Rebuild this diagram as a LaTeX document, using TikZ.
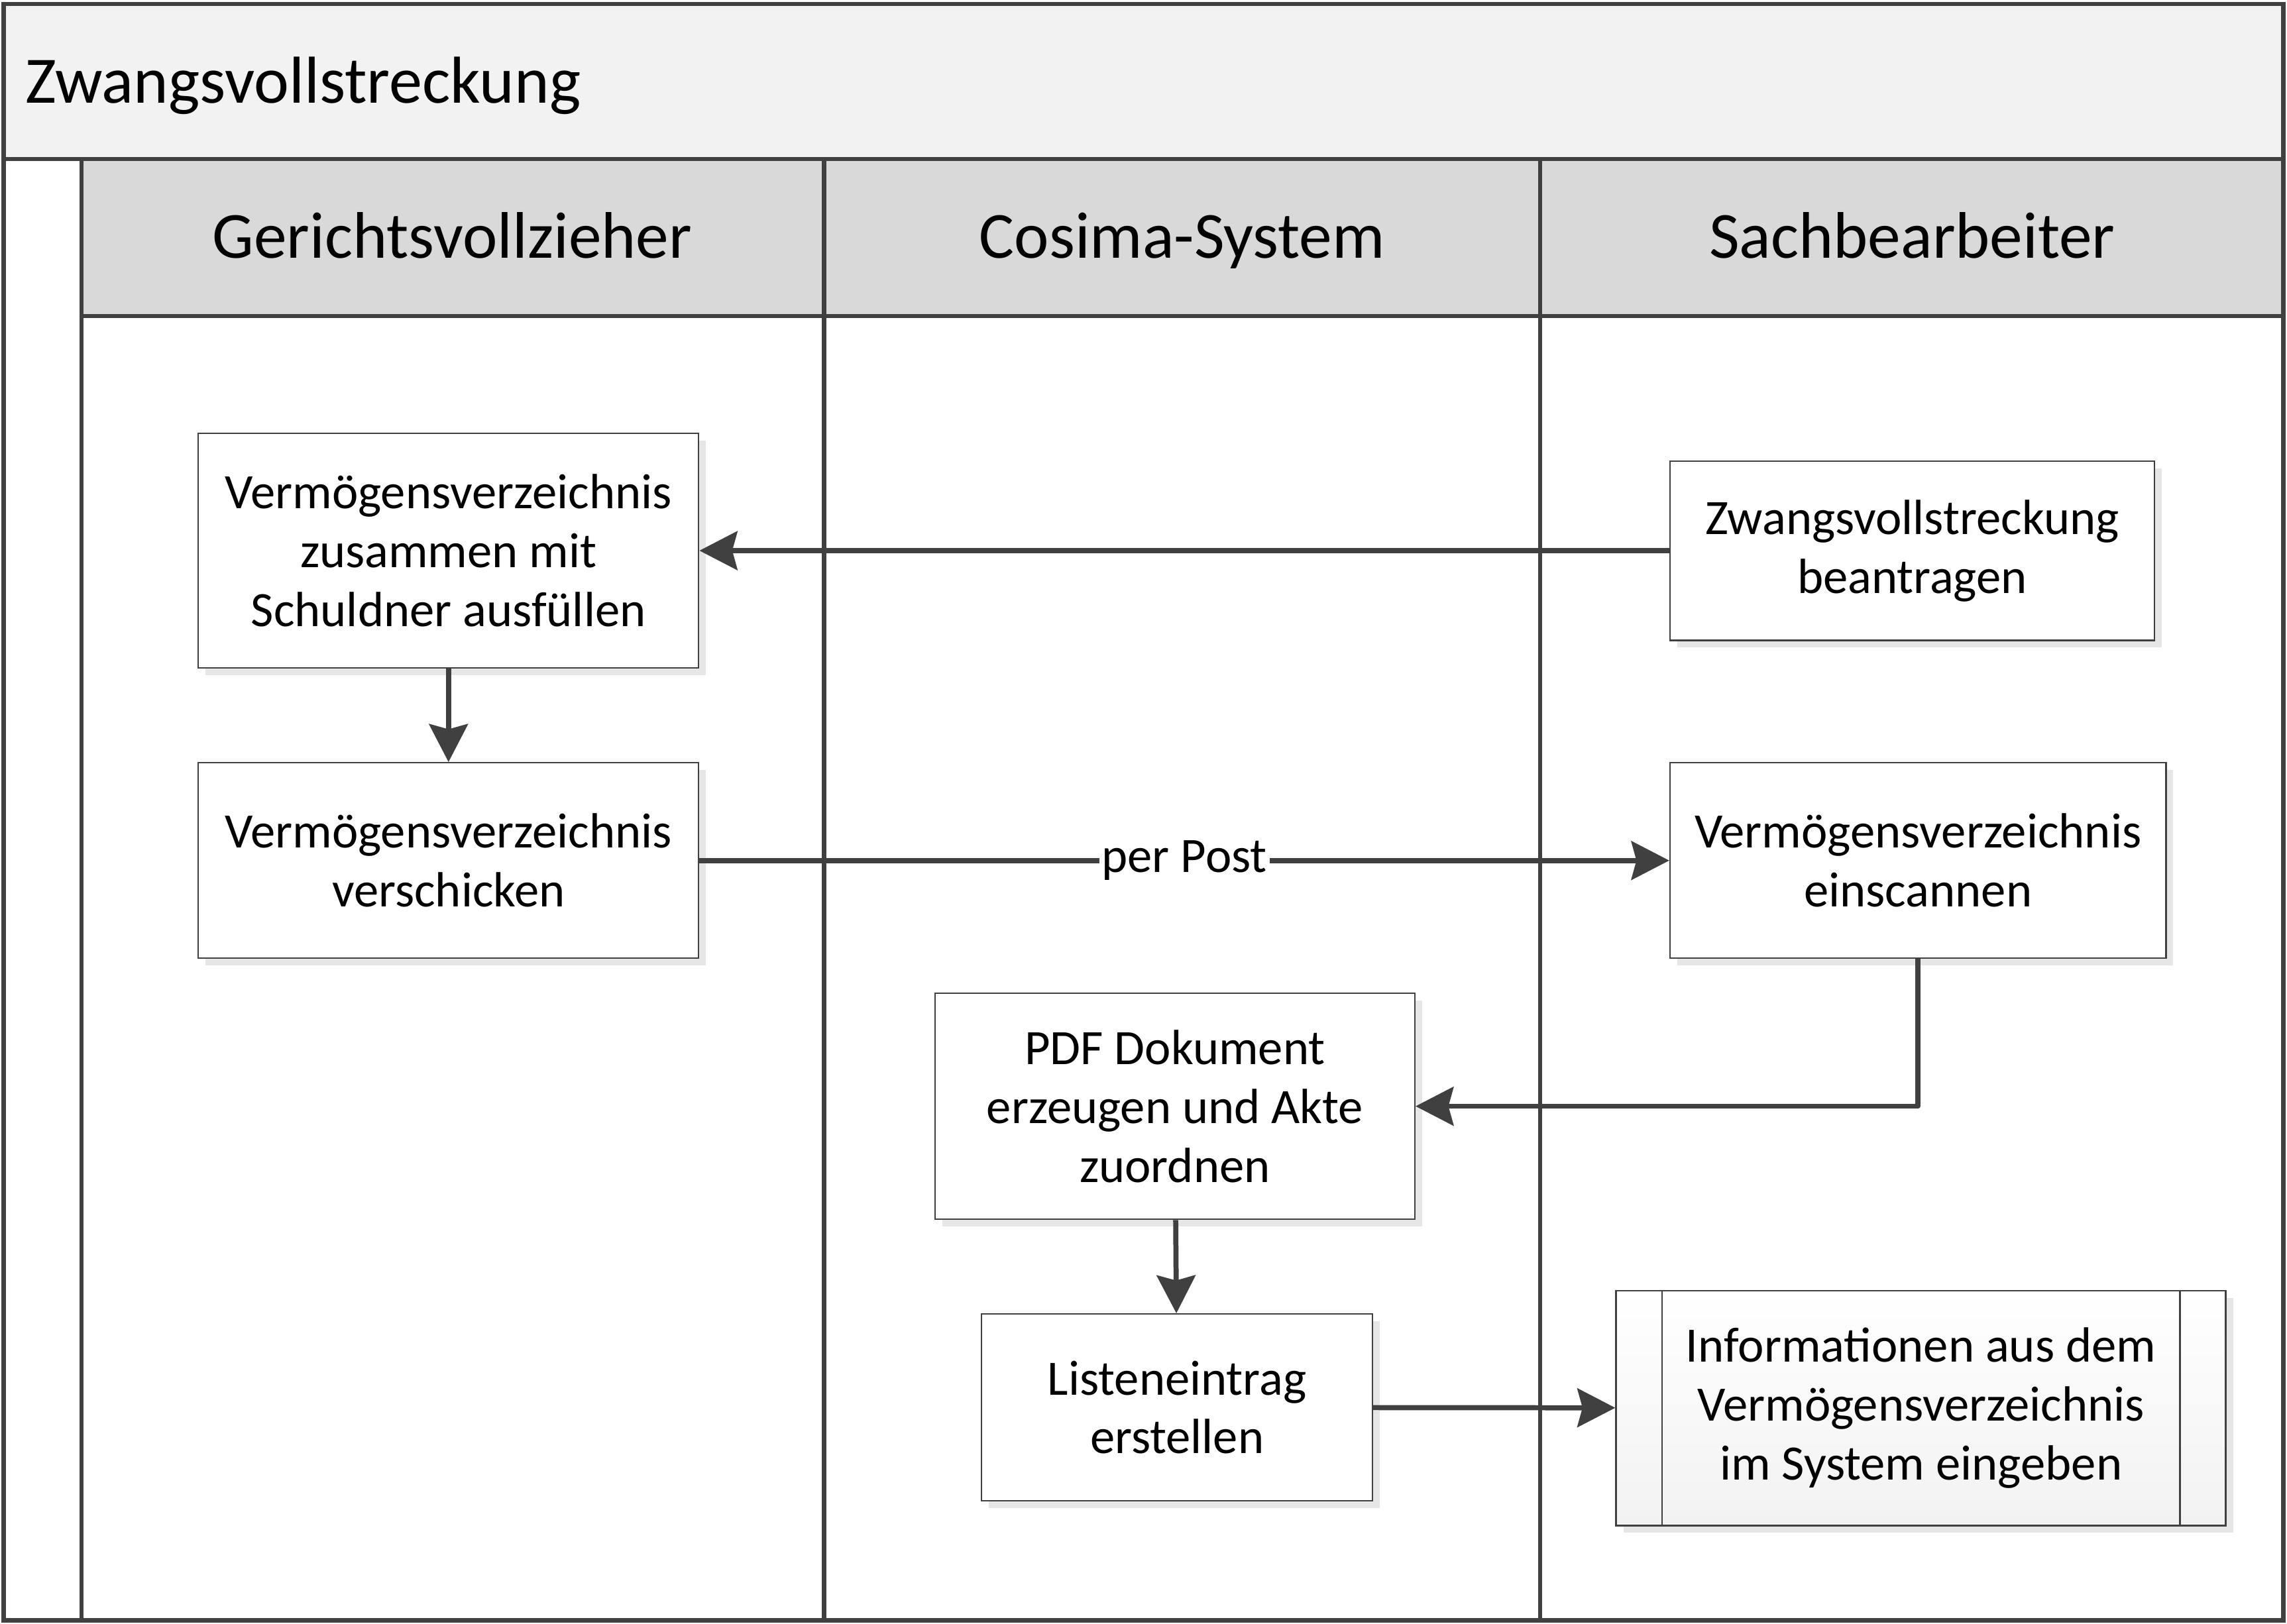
\documentclass[tikz,border=0pt]{standalone}
\usepackage{fontspec}
\setmainfont{Carlito}
\usetikzlibrary{arrows.meta,shadows}
\definecolor{linegray}{HTML}{404040}
\definecolor{shadowgray}{HTML}{E6E6E6}
\definecolor{titlegray}{HTML}{F2F2F2}
\definecolor{headgray}{HTML}{D9D9D9}

\begin{document}
\begin{tikzpicture}[
    proc/.style={draw=linegray, line width=0.6pt, fill=white, align=center,
      font=\fontsize{19.3}{23}\selectfont,
      drop shadow={shadow xshift=0.1cm, shadow yshift=-0.1cm, fill=shadowgray, opacity=1}},
    flow/.style={draw=linegray, line width=2pt, line join=round,
      -{Stealth[length=0.52cm, width=0.53cm, inset=0.07cm]}},
    lane/.style={draw=linegray, line width=1.6pt},
    lanetitle/.style={anchor=base, font=\fontsize{25.7}{30}\selectfont}
  ]
       \useasboundingbox (0,0) rectangle (31.36,22.272);

       % pool and lanes
       \fill[titlegray] (0.05,20.09) rectangle (31.31,22.22);
       \fill[headgray] (1.115,17.94) rectangle (31.31,20.09);
       \node[anchor=base west, inner sep=0pt, font=\fontsize{25.9}{30}\selectfont] (T) at (0.34,20.86) {Zwangsvollstreckung};
       \node[lanetitle] (L1) at (6.20,18.73) {Gerichtsvollzieher};
       \node[lanetitle] (L2) at (16.21,18.73) {Cosima-System};
       \node[lanetitle] (L3) at (26.22,18.73) {Sachbearbeiter};
       \path[lane] (0.05,0.05) rectangle (31.31,22.22);
       \path[lane] (0.05,20.09) -- (31.31,20.09);
       \path[lane] (1.115,17.94) -- (31.31,17.94);
       \path[lane] (1.115,0.05) -- (1.115,20.09);
       \path[lane] (11.30,0.05) -- (11.30,20.09);
       \path[lane] (21.12,0.05) -- (21.12,20.09);

       % steps
       \node[proc, minimum width=6.86cm, minimum height=3.22cm] (A) at (6.15,14.72)
         {Vermögensverzeichnis\\zusammen mit\\Schuldner ausfüllen};
       \node[proc, minimum width=6.86cm, minimum height=2.68cm] (B) at (6.15,10.47)
         {Vermögensverzeichnis\\verschicken};
       \node[proc, minimum width=6.64cm, minimum height=2.46cm] (C) at (26.22,14.72)
         {Zwangsvollstreckung\\beantragen};
       \node[proc, minimum width=6.80cm, minimum height=2.68cm] (D) at (26.30,10.47)
         {Vermögensverzeichnis\\einscannen};
       \node[proc, minimum width=6.58cm, minimum height=3.10cm] (E) at (16.11,7.10)
         {PDF Dokument\\erzeugen und Akte\\zuordnen};
       \node[proc, minimum width=5.36cm, minimum height=2.56cm] (F) at (16.14,2.97)
         {Listeneintrag\\erstellen};
       \node[proc, top color=white, bottom color=titlegray, minimum width=8.36cm, minimum height=3.22cm] (G) at (26.34,2.96)
         {Informationen aus dem\\Vermögensverzeichnis\\im System eingeben};
       \path[draw=linegray, line width=0.6pt] ([xshift=0.64cm]G.north west) -- ([xshift=0.64cm]G.south west);
       \path[draw=linegray, line width=0.6pt] ([xshift=-0.64cm]G.north east) -- ([xshift=-0.64cm]G.south east);

       % flows
       \path[flow] (C) -- (A);
       \path[flow] (A) -- (B);
       \path[flow] (B) -- node[fill=white, inner sep=1pt, font=\fontsize{19.3}{23}\selectfont] {per Post} (D);
       \path[flow] (D.south) |- (E.east);
       \path[flow] (E) -- (F);
       \path[flow] (F) -- (G);
      \end{tikzpicture}
\end{document}
